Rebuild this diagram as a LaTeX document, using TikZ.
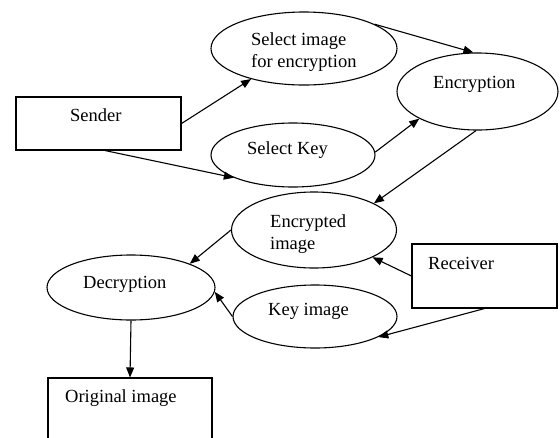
\documentclass[tikz,border=0pt]{standalone}
\usepackage{fontspec}
\setmainfont{Liberation Serif}
\usetikzlibrary{shapes.geometric,arrows.meta}
\begin{document}
\begin{tikzpicture}[x=1pt,y=-1pt,
  ell/.style={draw,ellipse,line width=1.1pt,inner sep=0pt},
  box/.style={draw,rectangle,line width=1.1pt,inner sep=0pt},
  lbl/.style={inner sep=0pt,font=\fontsize{18.5}{22.5}\selectfont,align=left},
  arr/.style={line width=1.1pt,-{Triangle[length=10pt,width=8pt]}}]
\useasboundingbox (0,0) rectangle (560,437);
\fill[white] (0,0) rectangle (560,437);
\clip (0,0) rectangle (560,437);
% shapes
\node[box,minimum width=165pt,minimum height=53pt] (sender) at (98.5,123.5) {};
\node[box,minimum width=145pt,minimum height=64pt] (receiver) at (484.5,276) {};
\node[box,minimum width=164pt,minimum height=72pt] (orig) at (130,414) {};
\node[ell,minimum width=186pt,minimum height=73pt] (selimg) at (304,48.5) {};
\node[ell,minimum width=161pt,minimum height=77pt] (enc) at (477.5,91.5) {};
\node[ell,minimum width=164pt,minimum height=64pt] (selkey) at (293,155) {};
\node[ell,minimum width=165pt,minimum height=76pt] (encimg) at (314,230) {};
\node[ell,minimum width=164pt,minimum height=63pt] (keyimg) at (315,316.5) {};
\node[ell,minimum width=168pt,minimum height=65pt] (dec) at (131,287.5) {};
% labels
\node[lbl,anchor=base west] (tsender) at (70,121) {Sender};
\node[lbl,anchor=north west] (tselimg) at (251,32) {Select image\\for encryption};
\node[lbl,anchor=base west] (tenc) at (433,88) {Encryption};
\node[lbl,anchor=base west] (tselkey) at (247,154) {Select Key};
\node[lbl,anchor=north west] (tencimg) at (270,214) {Encrypted\\image};
\node[lbl,anchor=base west] (treceiver) at (428,269) {Receiver};
\node[lbl,anchor=base west] (tdec) at (83,288) {Decryption};
\node[lbl,anchor=base west] (tkeyimg) at (268,315) {Key image};
\node[lbl,anchor=base west] (torig) at (65,402) {Original image};
% connectors
\draw[arr] (sender.east) -- (selimg.210);
\draw[arr] ([xshift=6.5pt]sender.south) -- (selkey.201);
\draw[arr] (selimg.19) -- (enc.96);
\draw[arr] (selkey.2) -- (enc.205);
\draw[arr] (enc.268) -- (encimg.24);
\draw[arr] (receiver.west) -- (encimg.335);
\draw[arr] (receiver.south) -- (keyimg.342);
\draw[arr] (encimg.180) -- (dec.22);
\draw[arr] (keyimg.180) -- (dec.357);
\draw[arr] (dec.south) -- (orig.north);
\end{tikzpicture}
\end{document}
